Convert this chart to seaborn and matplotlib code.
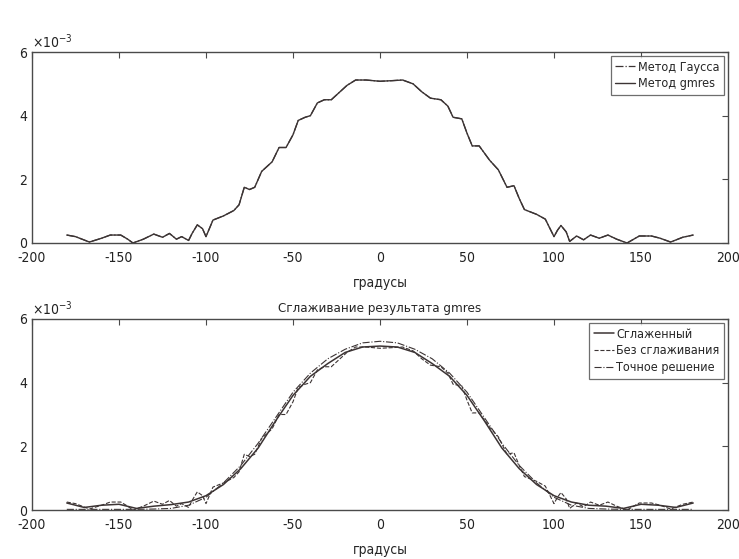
import matplotlib
matplotlib.use("Agg")
import matplotlib.pyplot as plt
from matplotlib import font_manager
import numpy as np
import pandas as pd
import seaborn as sns

# values in units of 1e-3
gmres_x = [-180, -175, -167, -160, -155, -149, -145, -142, -136, -130, -125, -121, -117, -114,
           -110, -108, -105, -102, -100, -96, -90, -84, -81, -78, -75, -72, -68, -65, -62,
           -58, -54, -50, -47, -43, -40, -36, -32, -28, -24, -19, -14, -8, 0,
           7, 13, 19, 24, 29, 35, 39, 42, 47, 50, 53, 57, 63, 68, 73, 77, 80, 83,
           90, 95, 100, 102, 104, 107, 109, 113, 117, 121, 126, 131, 136, 142, 149,
           156, 161, 167, 174, 180]
gmres_y = [0.25, 0.20, 0.03, 0.15, 0.25, 0.25, 0.12, 0.00, 0.12, 0.28, 0.18, 0.30, 0.12, 0.20,
           0.08, 0.30, 0.57, 0.45, 0.20, 0.72, 0.85, 1.02, 1.20, 1.75, 1.68, 1.75, 2.25, 2.40, 2.55,
           3.00, 3.00, 3.40, 3.85, 3.95, 4.00, 4.40, 4.50, 4.50, 4.70, 4.95, 5.12, 5.12, 5.08,
           5.10, 5.12, 5.00, 4.75, 4.55, 4.50, 4.30, 3.95, 3.90, 3.45, 3.05, 3.05, 2.60, 2.30, 1.75, 1.80,
           1.40, 1.05, 0.90, 0.75, 0.20, 0.40, 0.55, 0.35, 0.05, 0.22, 0.10, 0.25, 0.15, 0.25, 0.12,
           0.00, 0.22, 0.22, 0.15, 0.03, 0.18, 0.25]
gauss_x = list(gmres_x)
gauss_y = list(gmres_y)

smooth_x = [-180, -170, -160, -150, -140, -130, -120, -110, -100, -90, -80, -70, -60, -50, -40,
            -30, -20, -10, 0, 10, 20, 30, 40, 50, 60, 70, 80, 90, 100, 110, 120, 130, 140,
            150, 160, 170, 180]
smooth_y = [0.22, 0.08, 0.15, 0.18, 0.05, 0.12, 0.17, 0.25, 0.45, 0.80, 1.30, 1.95, 2.80, 3.60, 4.20,
            4.60, 4.95, 5.12, 5.15, 5.12, 4.95, 4.60, 4.20, 3.60, 2.80, 1.95, 1.30, 0.80, 0.45, 0.25,
            0.15, 0.12, 0.05, 0.18, 0.15, 0.08, 0.22]
exact_x = list(smooth_x)
exact_y = [0.02, 0.02, 0.02, 0.02, 0.02, 0.03, 0.05, 0.15, 0.40, 0.85, 1.40, 2.10, 2.90, 3.70, 4.30,
           4.75, 5.05, 5.25, 5.30, 5.25, 5.05, 4.75, 4.30, 3.70, 2.90, 2.10, 1.40, 0.85, 0.40, 0.15,
           0.05, 0.03, 0.02, 0.02, 0.02, 0.02, 0.02]

x_ticks = [-200, -150, -100, -50, 0, 50, 100, 150, 200]
y_ticks = [0, 2, 4, 6]
x_label = "градусы"
bottom_title = "Сглаживание результата gmres"

line_color = "#3c3434"
frame_color = "#4a4a4a"

# prefer a narrow face if one is installed
names = {f.name for f in font_manager.fontManager.ttflist}
condensed = any(f.name == "DejaVu Sans" and f.stretch in ("condensed", 500 - 100) or
                "Condensed" in f.fname for f in font_manager.fontManager.ttflist)
narrow = "Liberation Sans Narrow" in names


def frame(d_x, d_y, name):
    return pd.DataFrame({"x": d_x, "y": np.array(d_y) * 1e-3, "name": name})


def style_axes(ax, size):
    ax.set_xlim(-200, 200)
    ax.set_ylim(0, 6e-3)
    ax.set_xticks(x_ticks)
    ax.set_yticks([v * 1e-3 for v in y_ticks])
    ax.ticklabel_format(axis="y", style="sci", scilimits=(0, 0), useMathText=True)
    ax.tick_params(direction="in", length=4, top=True, right=True, labelsize=size,
                   color=frame_color, labelcolor="#222222")
    ax.tick_params(axis="x", pad=6)
    ax.tick_params(axis="y", pad=3)
    ax.yaxis.get_offset_text().set_fontsize(size)
    for sp in ax.spines.values():
        sp.set_visible(True)
        sp.set_color(frame_color)
        sp.set_linewidth(1.0)
    ax.set_xlabel(x_label, fontsize=size, labelpad=8)
    ax.set_ylabel("")


sns.set_style("white")
if narrow:
    plt.rcParams["font.family"] = ["Liberation Sans Narrow", "DejaVu Sans"]
    tick_size = 11
elif condensed:
    plt.rcParams["font.family"] = ["DejaVu Sans", "Liberation Sans"]
    plt.rcParams["font.stretch"] = "condensed"
    tick_size = 10
else:
    plt.rcParams["font.family"] = ["Liberation Sans", "DejaVu Sans"]
    tick_size = 9.5
plt.rcParams["axes.unicode_minus"] = False

fig = plt.figure(figsize=(7.39, 5.59), dpi=100)
ax1 = fig.add_axes([32 / 739, 316 / 559, 696 / 739, 191 / 559])
ax2 = fig.add_axes([32 / 739, 49 / 559, 696 / 739, 191 / 559])

sns.lineplot(data=frame(gauss_x, gauss_y, "g"), x="x", y="y", ax=ax1, color=line_color,
             linestyle="-.", linewidth=0.9, label="Метод Гаусса", sort=False, estimator=None)
sns.lineplot(data=frame(gmres_x, gmres_y, "m"), x="x", y="y", ax=ax1, color=line_color,
             linestyle="-", linewidth=1.0, label="Метод gmres", sort=False, estimator=None)

sns.lineplot(data=frame(smooth_x, smooth_y, "s"), x="x", y="y", ax=ax2, color=line_color,
             linestyle="-", linewidth=1.1, label="Сглаженный", sort=False, estimator=None)
sns.lineplot(data=frame(gmres_x, gmres_y, "n"), x="x", y="y", ax=ax2, color=line_color,
             linestyle="--", linewidth=0.8, label="Без сглаживания", sort=False, estimator=None)
sns.lineplot(data=frame(exact_x, exact_y, "e"), x="x", y="y", ax=ax2, color=line_color,
             linestyle="-.", linewidth=0.8, label="Точное решение", sort=False, estimator=None)

for ax in (ax1, ax2):
    style_axes(ax, tick_size)
    leg = ax.legend(loc="upper right", fontsize=9, frameon=True, fancybox=False,
                    handlelength=1.6, handletextpad=0.2, borderpad=0.35, labelspacing=0.3,
                    borderaxespad=0.35)
    leg.get_frame().set_edgecolor(frame_color)
    leg.get_frame().set_linewidth(0.9)

ax2.set_title(bottom_title, fontsize=tick_size - 0.5, pad=5)

fig.savefig("out.png", dpi=100)
